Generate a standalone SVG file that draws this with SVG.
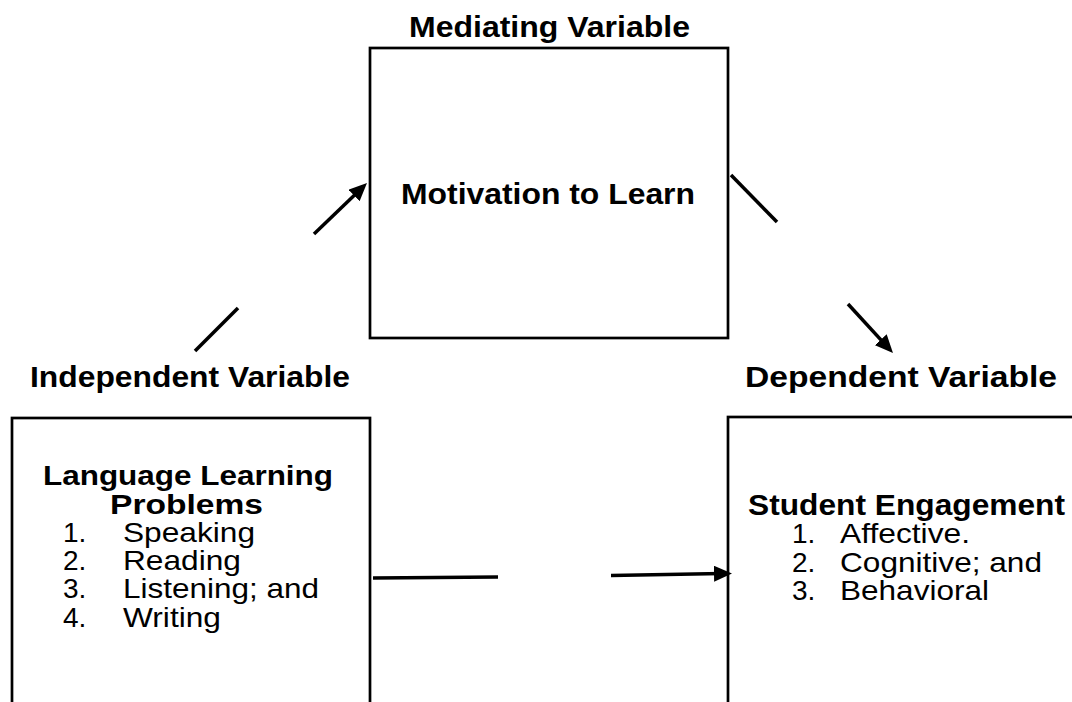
<svg xmlns="http://www.w3.org/2000/svg" width="1072" height="702" viewBox="0 0 1072 702">
<style>
.box{fill:none;stroke:#000;stroke-width:2.7}
.h{font-family:"Liberation Sans",Arial,sans-serif;font-weight:bold;font-size:29px;fill:#000}
.hs{font-size:28px}
.t{font-family:"Liberation Sans",Arial,sans-serif;font-size:28px;fill:#000}
.c{fill:none;stroke:#000;stroke-width:3.5}
</style>
<defs>
<marker id="ah" viewBox="0 0 18 16" refX="8" refY="8" markerWidth="18" markerHeight="16" markerUnits="userSpaceOnUse" orient="auto">
<path d="M0,0 L18,8 L0,16 z" fill="#000"/>
</marker>
</defs>
<rect width="1072" height="702" fill="#fff"/>
<g id="mediating">
<text class="h" x="409" y="37" textLength="281" lengthAdjust="spacingAndGlyphs">Mediating Variable</text>
<rect class="box" x="370" y="48" width="358" height="290"/>
<text class="h" x="401" y="204" textLength="294" lengthAdjust="spacingAndGlyphs">Motivation to Learn</text>
</g>
<g id="independent">
<text class="h" x="30" y="387" textLength="320" lengthAdjust="spacingAndGlyphs">Independent Variable</text>
<rect class="box" x="12" y="418" width="358" height="300"/>
<text class="h hs" x="43" y="485" textLength="290" lengthAdjust="spacingAndGlyphs">Language Learning</text>
<text class="h hs" x="110" y="514" textLength="153" lengthAdjust="spacingAndGlyphs">Problems</text>
<text class="t" x="63" y="542">1.</text><text class="t" x="123" y="542" textLength="132" lengthAdjust="spacingAndGlyphs">Speaking</text>
<text class="t" x="63" y="570">2.</text><text class="t" x="123" y="570" textLength="118" lengthAdjust="spacingAndGlyphs">Reading</text>
<text class="t" x="63" y="598">3.</text><text class="t" x="123" y="598" textLength="196" lengthAdjust="spacingAndGlyphs">Listening; and</text>
<text class="t" x="63" y="627">4.</text><text class="t" x="123" y="627" textLength="98" lengthAdjust="spacingAndGlyphs">Writing</text>
</g>
<g id="dependent">
<text class="h" x="745" y="387" textLength="312" lengthAdjust="spacingAndGlyphs">Dependent Variable</text>
<rect class="box" x="728" y="417" width="360" height="300"/>
<text class="h" x="748" y="515" textLength="317" lengthAdjust="spacingAndGlyphs">Student Engagement</text>
<text class="t" x="792" y="543">1.</text><text class="t" x="840" y="543" textLength="130" lengthAdjust="spacingAndGlyphs">Affective.</text>
<text class="t" x="792" y="572">2.</text><text class="t" x="840" y="572" textLength="202" lengthAdjust="spacingAndGlyphs">Cognitive; and</text>
<text class="t" x="792" y="600">3.</text><text class="t" x="840" y="600" textLength="149" lengthAdjust="spacingAndGlyphs">Behavioral</text>
</g>
<g id="connectors">
<line class="c" x1="195" y1="351" x2="238" y2="308"/>
<line class="c" x1="314" y1="234" x2="359.8" y2="189.9" marker-end="url(#ah)"/>
<line class="c" x1="731" y1="175" x2="777" y2="222"/>
<line class="c" x1="848" y1="304" x2="886.2" y2="345.6" marker-end="url(#ah)"/>
<line class="c" x1="373" y1="578" x2="498" y2="577"/>
<line class="c" x1="611" y1="575.5" x2="722" y2="573.6" marker-end="url(#ah)"/>
</g>
</svg>
